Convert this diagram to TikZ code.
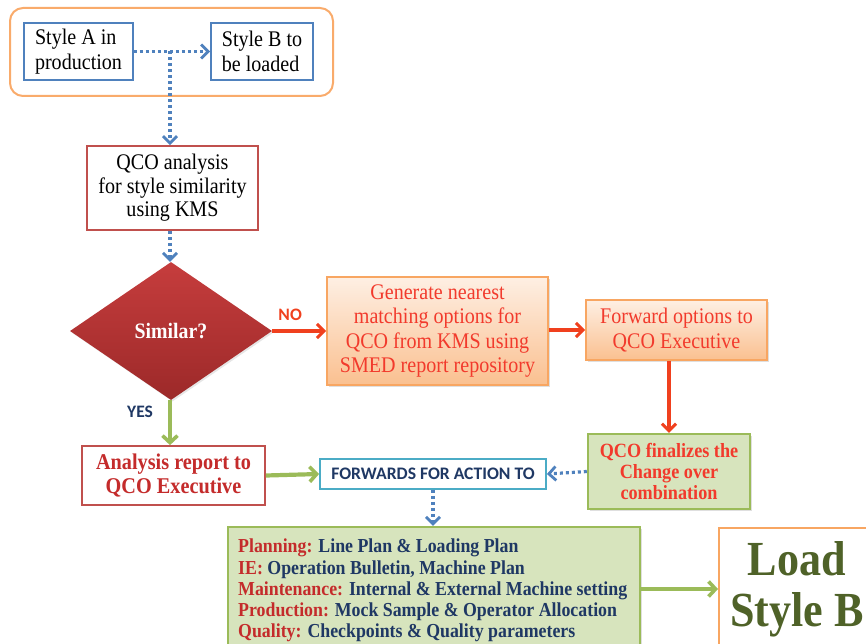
\documentclass[tikz,border=0pt]{standalone}
\usepackage{fontspec}
\setmainfont{Liberation Serif}[FakeStretch=0.9]
\newfontfamily\uisans{Carlito}
\usetikzlibrary{arrows.meta,shapes.geometric,shadows}

\definecolor{boxblue}{HTML}{4F81BD}
\definecolor{boxred}{HTML}{C0504D}
\definecolor{boxorange}{HTML}{F79646}
\definecolor{boxgreen}{HTML}{9BBB59}
\definecolor{fillgreen}{HTML}{D7E4BD}
\definecolor{boxcyan}{HTML}{4BACC6}
\definecolor{txtred}{HTML}{F23A2C}
\definecolor{txtdred}{HTML}{C42B2B}
\definecolor{txtnavy}{HTML}{1F3864}
\definecolor{txtolive}{HTML}{4F6228}
\definecolor{arrred}{HTML}{F0401E}
\definecolor{dtop}{HTML}{C63D3D}
\definecolor{dbot}{HTML}{9C2929}

\tikzset{
  plainbox/.style={draw, line width=1.8pt, fill=white, inner sep=0pt, align=center,
    font=\fontsize{22.3}{24.5}\selectfont},
  bluebox/.style={plainbox, draw=boxblue},
  redbox/.style={plainbox, draw=boxred},
  peachbox/.style={plainbox, draw=boxorange!85, top color=boxorange!15, bottom color=boxorange!60,
    text=txtred, drop shadow={shadow xshift=1.5pt, shadow yshift=-1.5pt, opacity=0.25}},
  greenbox/.style={plainbox, draw=boxgreen, line width=2.4pt, fill=fillgreen,
    drop shadow={shadow xshift=1.5pt, shadow yshift=-1.5pt, opacity=0.25}},
  dotarrow/.style={draw=boxblue, line width=3.2pt, dash pattern=on 3pt off 3pt,
    -{Straight Barb[length=7pt, width=14pt, line width=2.8pt]}},
  redarrow/.style={draw=arrred, line width=3.2pt,
    -{Straight Barb[length=7pt, width=14pt, line width=3pt]}},
  greenarrow/.style={draw=boxgreen, line width=4.2pt,
    -{Straight Barb[length=7pt, width=15pt, line width=3.6pt]}},
  armlabel/.style={font=\uisans\bfseries\fontsize{17.5}{20}\selectfont, inner sep=0pt}
}

\begin{document}
\begin{tikzpicture}[x=1pt, y=-1pt]
\useasboundingbox (0,0) rectangle (866,644);
\clip (0,0) rectangle (866,644);

% incoming / outgoing styles
\node[draw=boxorange!80, line width=2pt, rounded corners=13pt, minimum width=323pt,
      minimum height=88pt, inner sep=0pt] (grp) at (171.5,52) {};
\node[bluebox, minimum width=109pt, minimum height=57pt, align=left] (sa) at (78.5,51.5)
  {Style A in\\production};
\node[bluebox, minimum width=102pt, minimum height=57pt, align=left] (sb) at (262,51.5)
  {Style B to\\be loaded};
\coordinate (br) at (170,51.5);

% analysis and decision
\node[redbox, minimum width=171pt, minimum height=84pt, font=\fontsize{22.3}{23.5}\selectfont]
  (qco) at (172.5,188) {QCO analysis\\for style similarity\\using KMS};
\node[diamond, inner sep=0pt, minimum width=202pt, minimum height=138pt,
      top color=dtop, bottom color=dbot, draw=none,
      text=white, font=\bfseries\fontsize{22}{24}\selectfont,
      drop shadow={shadow xshift=1.5pt, shadow yshift=-1.5pt, opacity=0.2}] (sim) at (171,331) {Similar?};

% NO branch
\node[peachbox, minimum width=221pt, minimum height=108pt] (gen) at (437.5,331)
  {Generate nearest\\matching options for\\QCO from KMS using\\SMED report repository};
\node[peachbox, minimum width=181pt, minimum height=60pt] (fwd) at (676.5,330)
  {Forward options to\\QCO Executive};
\node[greenbox, minimum width=162pt, minimum height=75pt, text=txtred,
      font=\bfseries\fontsize{20.2}{21}\selectfont] (fin) at (669,471.5)
  {QCO finalizes the\\Change over\\combination};

% YES branch
\node[redbox, minimum width=183pt, minimum height=59pt, text=txtdred,
      font=\bfseries\fontsize{22.5}{24}\selectfont] (ana) at (173.5,475.5)
  {Analysis report to\\QCO Executive};
\node[plainbox, draw=boxcyan, minimum width=226pt, minimum height=30pt,
      text=txtnavy, font=\uisans\bfseries\fontsize{17.6}{20}\selectfont] (fa) at (433,474)
  {FORWARDS FOR ACTION TO};

% department actions
\node[greenbox, minimum width=412pt, minimum height=124pt] (plan) at (434,589) {};
\node[anchor=north west, inner sep=0pt, align=left, text=txtnavy,
      font=\bfseries\fontsize{19.8}{21.2}\selectfont] (acts) at (238,539)
  {\textcolor{txtdred}{Planning:} Line Plan \& Loading Plan\\
   \textcolor{txtdred}{IE:} Operation Bulletin, Machine Plan\\
   \textcolor{txtdred}{Maintenance:} Internal \& External Machine setting\\
   \textcolor{txtdred}{Production:} Mock Sample \& Operator Allocation\\
   \textcolor{txtdred}{Quality:} Checkpoints \& Quality parameters};

\node[plainbox, draw=boxorange!85, line width=2pt, minimum width=200pt, minimum height=122pt,
      anchor=west] (load) at (718,589) {};
\node[text=txtolive, font=\bfseries\fontsize{49}{51}\selectfont, align=center, inner sep=0pt]
  (loadtxt) at (797,589.5) {Load\\Style B};

% connectors
\draw[dotarrow] (sa.east) -- (sb.west);
\draw[dotarrow] (br) -- (br |- qco.north);
\draw[dotarrow] (qco.south -| br) -- (sim.north -| br);
\draw[redarrow] (sim.east) -- (gen.west)
  node[armlabel, text=arrred, midway, above=9pt, xshift=-9pt] {NO};
\draw[redarrow] (gen.east |- fwd.west) -- (fwd.west);
\draw[redarrow] (fwd.south -| fin.north) -- (fin.north);
\draw[greenarrow] (sim.south -| br) -- (br |- ana.north)
  node[armlabel, text=txtnavy, pos=0.25, left=15pt] {YES};
\draw[greenarrow] (ana.east) -- (fa.west);
\draw[dotarrow] (fin.west) -- (fa.east);
\draw[dotarrow] (fa.south) -- (plan.north -| fa.south);
\draw[greenarrow] (plan.east) -- (load.west);
\end{tikzpicture}
\end{document}
